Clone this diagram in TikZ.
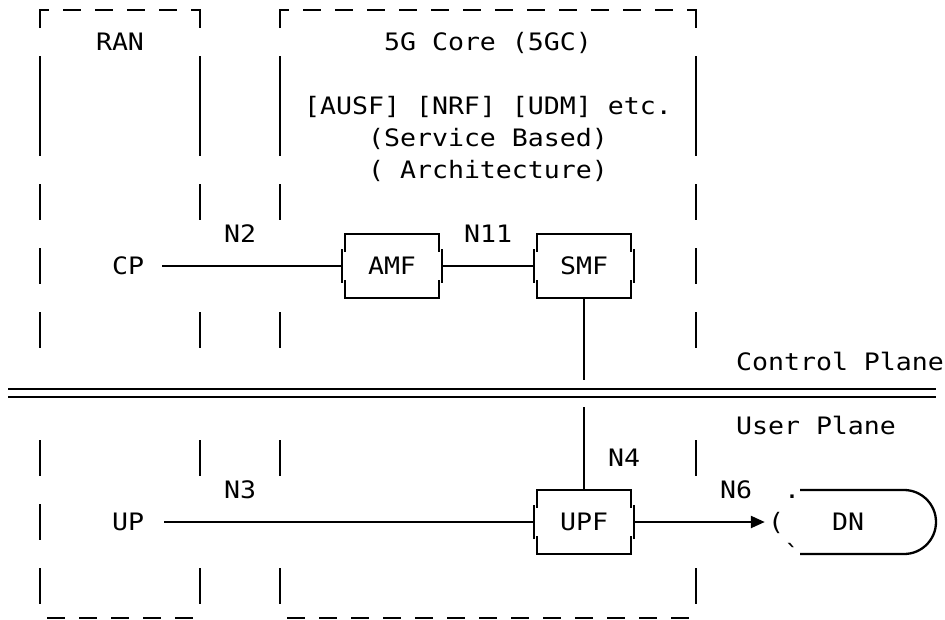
\documentclass[tikz,border=0pt]{standalone}
\usepackage{fontspec}
\newfontfamily\dvsm[FakeStretch=1.107]{DejaVu Sans Mono}
\usetikzlibrary{arrows.meta,calc}
\newcommand\wseg[3]{\draw[ln] (#1,{32*#2-8}) -- (#1,{32*#3+28});}
\newcommand\brbox[1]{%
 \draw[ln] ($(#1.north west)+(0,18)$) -- (#1.north west) -- (#1.north east) -- ++(0,18);
 \draw[ln] ($(#1.south west)+(0,-18)$) -- (#1.south west) -- (#1.south east) -- ++(0,-18);
 \draw[ln] ($(#1.west)+(-3,-17)$) -- ++(0,34);
 \draw[ln] ($(#1.east)+(3,-17)$) -- ++(0,34);
}
\begin{document}
\begin{tikzpicture}[x=1pt,y=-1pt,
  ln/.style={line width=2.3pt,line cap=butt},
  dbl/.style={line width=2.9pt},
  txt/.style={font=\dvsm\fontsize{24}{28}\selectfont, inner sep=0pt, text height=17.5pt, text depth=0pt},
  fbox/.style={txt, minimum width=94pt, minimum height=64pt},
  arr/.style={ln,-{Triangle[length=14pt,width=12pt]}}
]
\fill[white] (0,0) rectangle (945,619);
\useasboundingbox (0,0) rectangle (945,619);

% walls of the dashed boxes
\wseg{40}{2}{4}\wseg{40}{6}{6}\wseg{40}{8}{8}\wseg{40}{10}{10}\wseg{40}{14}{14}\wseg{40}{16}{16}\wseg{40}{18}{18}
\wseg{200}{2}{4}\wseg{200}{6}{6}\wseg{200}{10}{10}\wseg{200}{14}{14}\wseg{200}{18}{18}
\wseg{280}{2}{4}\wseg{280}{6}{6}\wseg{280}{10}{10}\wseg{280}{14}{14}\wseg{280}{18}{18}
\wseg{696}{2}{4}\wseg{696}{6}{6}\wseg{696}{8}{8}\wseg{696}{10}{10}\wseg{696}{14}{14}\wseg{696}{18}{18}

% top corners
\draw[ln,line join=miter] (40,28) -- (40,10) -- (49,10);
\draw[ln,line join=miter] (191,10) -- (200,10) -- (200,28);
\draw[ln,line join=miter] (280,28) -- (280,10) -- (289,10);
\draw[ln,line join=miter] (687,10) -- (696,10) -- (696,28);

% dashes
\foreach \c in {4,6,8,10} \draw[ln] ({16*\c-1},10) -- ({16*\c+17},10);
\foreach \c in {19,21,...,41} \draw[ln] ({16*\c-1},10) -- ({16*\c+17},10);
\foreach \c in {3,5,...,11} \draw[ln] ({16*\c-1},618) -- ({16*\c+17},618);
\foreach \c in {18,20,...,42} \draw[ln] ({16*\c-1},618) -- ({16*\c+17},618);

% texts
\node[txt] (ran) at (120,42) {RAN};
\node[txt] (core) at (488,42) {5G Core (5GC)};
\node[txt] (nfs) at (488,106) {[AUSF] [NRF] [UDM] etc.};
\node[txt] (sba1) at (488,138) {(Service Based)};
\node[txt] (sba2) at (488,170) {( Architecture)};
\node[txt] (n2) at (240,234) {N2};
\node[txt] (n11) at (488,234) {N11};
\node[txt] (CP) at (128,266) {CP};
\node[txt] (cpl) at (840,362) {Control Plane};
\node[txt] (upl) at (816,426) {User Plane};
\node[txt] (n4) at (624,458) {N4};
\node[txt] (n3) at (240,490) {N3};
\node[txt] (n6) at (736,490) {N6};
\node[txt] (dot) at (792,490) {.};
\node[txt] (UP) at (128,522) {UP};
\node[txt] (paren) at (776,522) {(};
\node[txt] (DN) at (848,522) {DN};
\node[txt] (tick) at (792,554) {\char"60};

% function boxes
\node[fbox] (AMF) at (392,266) {AMF};
\node[fbox] (SMF) at (584,266) {SMF};
\node[fbox] (UPF) at (584,522) {UPF};
\brbox{AMF}\brbox{SMF}\brbox{UPF}

% DN shape
\draw[ln] (800,490) -- (904,490) arc[start angle=-90,end angle=90,radius=32] -- (800,554);

% plane separator
\draw[dbl] (8,389) -- (936,389);
\draw[dbl] (8,397) -- (936,397);

% connectors
\coordinate (cpend) at (584,380);
\coordinate (upbeg) at (584,407);
\draw[ln,shorten <=18pt] (CP.east) -- ($(AMF.west)+(-3,0)$);
\draw[ln] ($(AMF.east)+(3,0)$) -- ($(SMF.west)+(-3,0)$);
\draw[ln] (SMF.south) -- (cpend);
\draw[ln] (upbeg) -- (UPF.north);
\draw[ln,shorten <=20pt] (UP.east) -- ($(UPF.west)+(-3,0)$);
\draw[arr,shorten >=3pt] ($(UPF.east)+(3,0)$) -- (paren.west);
\end{tikzpicture}
\end{document}
